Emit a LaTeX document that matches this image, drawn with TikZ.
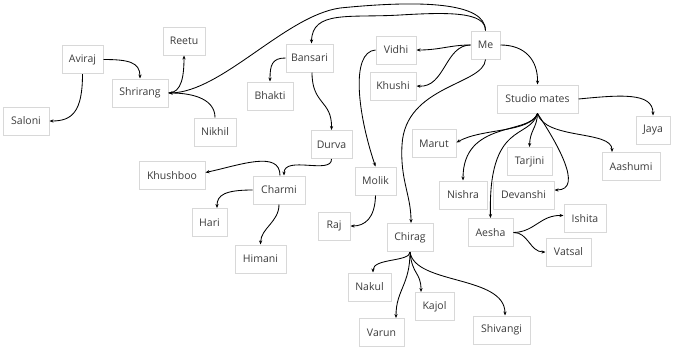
\documentclass[tikz,border=0pt]{standalone}
\usepackage{fontspec}
\setmainfont{Open Sans}
\usetikzlibrary{arrows.meta}
\definecolor{txt}{HTML}{3C3C3C}
\definecolor{bord}{HTML}{D8D8D8}
\begin{document}
\begin{tikzpicture}[x=1pt,y=-1pt,
  box/.style={draw=bord, line width=1pt, fill=white, text=txt, minimum height=28pt, inner xsep=1pt, inner ysep=0pt, font=\fontsize{10.5}{12}\selectfont, minimum width=#1},
  edge/.style={line width=0.85pt, black, -{Stealth[length=4pt,width=3.2pt]}}]
\useasboundingbox (0,0) rectangle (674,349);
% nodes
\node[box=41pt] (aviraj) at (82.5,59.5) {Aviraj};
\node[box=42pt] (reetu) at (184,41) {Reetu};
\node[box=56pt] (shrirang) at (140,93) {Shrirang};
\node[box=46pt] (saloni) at (26,121) {Saloni};
\node[box=42pt] (nikhil) at (215,132) {Nikhil};
\node[box=47pt] (bansari) at (309.5,58) {Bansari};
\node[box=46pt] (bhakti) at (270,96) {Bhakti};
\node[box=41pt] (durva) at (331.5,144.5) {Durva};
\node[box=66pt] (khushboo) at (172,175.5) {Khushboo};
\node[box=52pt] (charmi) at (279,190) {Charmi};
\node[box=35pt] (hari) at (209.5,222.5) {Hari};
\node[box=51pt] (himani) at (260.5,259) {Himani};
\node[box=32pt] (raj) at (334,226) {Raj};
\node[box=29pt] (me) at (485.5,45) {Me};
\node[box=40pt] (vidhi) at (396,50) {Vidhi};
\node[box=46pt] (khushi) at (393,86) {Khushi};
\node[box=81pt] (studio) at (537.5,99) {Studio mates};
\node[box=34pt] (jaya) at (653,130) {Jaya};
\node[box=44pt] (marut) at (434,143.5) {Marut};
\node[box=45pt] (tarjini) at (529.5,161.5) {Tarjini};
\node[box=58pt] (aashumi) at (631,166.5) {Aashumi};
\node[box=41pt] (molik) at (375.5,181) {Molik};
\node[box=48pt] (nishra) at (463,195) {Nishra};
\node[box=61pt] (devanshi) at (523.5,195) {Devanshi};
\node[box=45pt] (aesha) at (490.5,232.5) {Aesha};
\node[box=42pt] (ishita) at (585,218.5) {Ishita};
\node[box=45pt] (vatsal) at (568.5,252) {Vatsal};
\node[box=46pt] (chirag) at (410,237.5) {Chirag};
\node[box=43pt] (nakul) at (369.5,287) {Nakul};
\node[box=39pt] (kajol) at (434.5,306.5) {Kajol};
\node[box=45pt] (varun) at (381.5,332.5) {Varun};
\node[box=57pt] (shivangi) at (501.5,330) {Shivangi};
% connectors
\draw[edge] (aviraj.east) .. controls (128,59.5) and (140,62) .. (shrirang.north);
\draw[edge] (aviraj.south) .. controls (82.5,112) and (72,121) .. (saloni.east);
\draw[edge] (shrirang.east) .. controls (182,93) and (184,75) .. (reetu.south);
\draw[edge] (nikhil.north) .. controls (215,100) and (195,93) .. (shrirang.east);
\draw[edge] (me.north) .. controls (485.5,2) and (420,0) .. (340,8) .. controls (285,16) and (222,92) .. (shrirang.east);
\draw[edge] (me.north) .. controls (485.5,12) and (450,12) .. (400,15) .. controls (350,18) and (312,10) .. ([xshift=2pt]bansari.north);
\draw[edge] (bansari.west) .. controls (272,58) and (270,65) .. (bhakti.north);
\draw[edge] ([xshift=2.5pt]bansari.south) .. controls (312,105) and (332,100) .. (durva.north);
\draw[edge] (durva.south) .. controls (332,175) and (284,155) .. ([xshift=5pt]charmi.north);
\draw[edge] ([xshift=1pt]charmi.north) .. controls (280,150) and (240,165) .. ([yshift=3pt]khushboo.east);
\draw[edge] (charmi.west) .. controls (225,190) and (217,195) .. ([xshift=7.5pt]hari.north);
\draw[edge] (charmi.south) .. controls (279,222) and (261,228) .. (himani.north);
\draw[edge] (me.west) .. controls (450,45) and (440,50) .. (vidhi.east);
\draw[edge] (me.west) .. controls (445,45) and (445,88) .. (khushi.east);
\draw[edge] (vidhi.west) .. controls (350,52) and (358,115) .. (molik.north);
\draw[edge] (molik.south) .. controls (375,218) and (365,226) .. (raj.east);
\draw[edge] (me.south) .. controls (484,85) and (405,85) .. (402,145) .. controls (400,180) and (411,195) .. ([xshift=1pt]chirag.north);
\draw[edge] (me.east) .. controls (525,45) and (538,60) .. (studio.north);
\draw[edge] (studio.east) .. controls (620,95) and (653,92) .. (jaya.north);
\draw[edge] (studio.south) .. controls (530,133) and (482,128) .. ([yshift=1pt]marut.east);
\draw[edge] (studio.south) .. controls (530,135) and (463,120) .. (nishra.north);
\draw[edge] (studio.south) .. controls (530,140) and (488,120) .. (aesha.north);
\draw[edge] (studio.south) .. controls (537,128) and (530,130) .. (tarjini.north);
\draw[edge] (studio.south) .. controls (555,140) and (585,190) .. ([yshift=5pt]devanshi.east);
\draw[edge] (studio.south) .. controls (545,140) and (612,130) .. ([xshift=-19pt]aashumi.north);
\draw[edge] (aesha.east) .. controls (535,232) and (540,215) .. ([yshift=3pt]ishita.west);
\draw[edge] (aesha.east) .. controls (528,232) and (530,252) .. (vatsal.west);
\draw[edge] (chirag.south) .. controls (410,262) and (373,258) .. ([xshift=3.5pt]nakul.north);
\draw[edge] (chirag.south) .. controls (410,285) and (396,290) .. ([xshift=14.5pt]varun.north);
\draw[edge] (chirag.south) .. controls (412,275) and (421,272) .. ([xshift=-13.5pt]kajol.north);
\draw[edge] (chirag.south) .. controls (415,285) and (505,275) .. ([xshift=3.5pt]shivangi.north);
\end{tikzpicture}
\end{document}
